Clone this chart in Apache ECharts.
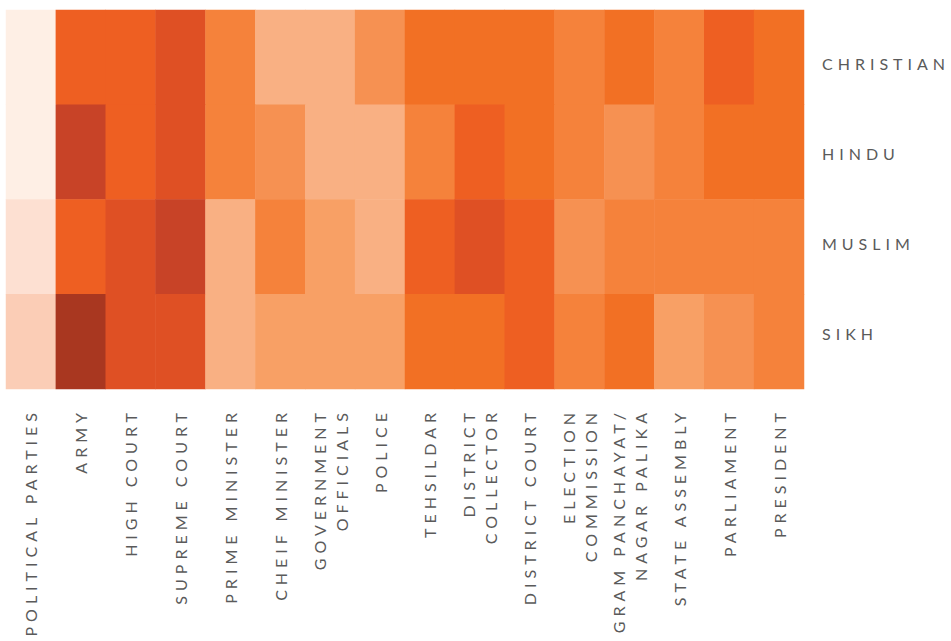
<!DOCTYPE html>
<html>
<head>
<meta charset="utf-8">
<script src="https://cdn.jsdelivr.net/npm/echarts@6/dist/echarts.min.js"></script>
<style>
  html, body { margin: 0; padding: 0; background: #fff; }
  #chart { width: 951px; height: 641px; }
  #chart svg text { letter-spacing: 5px; }
</style>
</head>
<body>
<div id="chart"></div>
<script>
// Communities (rows, top to bottom)
const communities = ['CHRISTIAN', 'HINDU', 'MUSLIM', 'SIKH'];
// Institutions (columns, left to right)
const institutions = [
  'POLITICAL PARTIES', 'ARMY', 'HIGH COURT', 'SUPREME COURT', 'PRIME MINISTER',
  'CHEIF MINISTER', 'GOVERNMENT\nOFFICIALS', 'POLICE', 'TEHSILDAR',
  'DISTRICT\nCOLLECTOR', 'DISTRICT COURT', 'ELECTION\nCOMMISSION',
  'GRAM PANCHAYAT/\nNAGAR PALIKA', 'STATE ASSEMBLY', 'PARLIAMENT', 'PRESIDENT'
];
// Trust level (1 = lowest, 12 = highest) read from the shading
const christian = [1, 9, 9, 10, 7, 4, 4, 6, 8, 8, 8, 7, 8, 7, 9, 8];
const hindu     = [1, 11, 9, 10, 7, 6, 4, 4, 7, 9, 8, 7, 6, 7, 8, 8];
const muslim    = [2, 9, 10, 11, 4, 7, 5, 4, 9, 10, 9, 6, 7, 7, 7, 7];
const sikh      = [3, 12, 10, 10, 4, 5, 5, 5, 8, 8, 9, 7, 8, 5, 6, 7];

const levelColors = ['#FEEFE5', '#FDE0D2', '#FBCDB6', '#F9B083', '#F8A065', '#F69152',
                     '#F5823B', '#F27024', '#EE5F22', '#DF5024', '#C84327', '#A93720'];

const rowsData = [christian, hindu, muslim, sikh];
const cells = [];
rowsData.forEach((arr, r) => arr.forEach((v, c) => cells.push([c, r, v])));

const chart = echarts.init(document.getElementById('chart'), null, { renderer: 'svg' });
const labelFont = { fontFamily: 'Lato', fontSize: 16, color: '#5a5a5a' };

chart.setOption({
  animation: false,
  backgroundColor: '#fff',
  grid: [
    { left: 6, top: 10, width: 798, height: 379 },
    { left: 6, top: 18, width: 798, height: 360 }
  ],
  xAxis: [
    {
      type: 'category', gridIndex: 0, data: institutions,
      axisLine: { show: false }, axisTick: { show: false }, splitLine: { show: false },
      axisLabel: Object.assign({ rotate: 90, margin: 19, interval: 0, lineHeight: 22 }, labelFont)
    },
    { type: 'category', gridIndex: 1, data: institutions, show: false }
  ],
  yAxis: [
    {
      type: 'category', gridIndex: 0, data: communities, inverse: true,
      axisLine: { show: false }, axisTick: { show: false }, axisLabel: { show: false },
      splitLine: { show: false }
    },
    {
      type: 'category', gridIndex: 1, data: communities, inverse: true, position: 'right',
      axisLine: { show: false }, axisTick: { show: false }, splitLine: { show: false },
      axisLabel: Object.assign({ margin: 18, align: 'left' }, labelFont)
    }
  ],
  visualMap: {
    type: 'continuous', min: 1, max: 12, show: false, calculable: false,
    inRange: { color: levelColors }
  },
  series: [{
    type: 'heatmap', xAxisIndex: 0, yAxisIndex: 0, data: cells,
    itemStyle: { borderWidth: 0 },
    emphasis: { disabled: true }
  }]
});
</script>
</body>
</html>
